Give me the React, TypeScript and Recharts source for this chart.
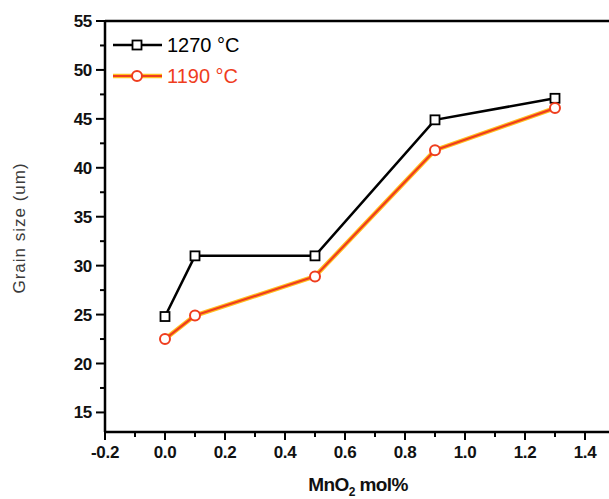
import React from 'react';
import { LineChart, Line, XAxis, YAxis, ReferenceLine } from 'recharts';

const mno2 = [0, 0.1, 0.5, 0.9, 1.3];
const size1270 = [24.8, 31.0, 31.0, 44.9, 47.1];
const size1190 = [22.5, 24.9, 28.9, 41.8, 46.1];

const xTicks = [-0.2, -0.1, 0, 0.1, 0.2, 0.3, 0.4, 0.5, 0.6, 0.7, 0.8, 0.9, 1.0, 1.1, 1.2, 1.3, 1.4, 1.5];
const yTicks = [15, 17.5, 20, 22.5, 25, 27.5, 30, 32.5, 35, 37.5, 40, 42.5, 45, 47.5, 50, 52.5, 55];

const seriesNames = ['1270 °C', '1190 °C'];

const data = mno2.map((x, i) => ({ x, t1270: size1270[i], t1190: size1190[i] }));

const FONT = '"Liberation Sans", Arial, sans-serif';
const ORANGE = '#ef3d1e';
const GLOW = '#ffbf20';

const XTick = (props: any) => {
  const { x, y, payload } = props;
  const major = Math.round(payload.value * 10) % 2 === 0;
  return (
    <g>
      <line x1={x} x2={x} y1={y} y2={y + (major ? 8 : 5)} stroke="#000" strokeWidth={2} />
      {major && (
        <text x={x} y={y + 26} textAnchor="middle" fontFamily={FONT} fontWeight="bold" fontSize={17} fill="#111" letterSpacing={-0.3}>
          {payload.value.toFixed(1)}
        </text>
      )}
    </g>
  );
};

const YTick = (props: any) => {
  const { x, y, payload } = props;
  const major = payload.value % 5 === 0;
  return (
    <g>
      <line x1={x - (major ? 9 : 5)} x2={x} y1={y} y2={y} stroke="#000" strokeWidth={2} />
      {major && (
        <text x={x - 13} y={y + 6} textAnchor="end" fontFamily={FONT} fontWeight="bold" fontSize={17} fill="#111" letterSpacing={-0.3}>
          {payload.value}
        </text>
      )}
    </g>
  );
};

const SquareDot = (props: any) => {
  const { cx, cy } = props;
  if (cx == null || cy == null) return null;
  return <rect x={cx - 4.5} y={cy - 4.5} width={9} height={9} fill="#fff" stroke="#000" strokeWidth={1.8} />;
};

export default function App() {
  return (
    <div style={{ position: 'fixed', left: 0, top: 0, width: 609, height: 499, overflow: 'hidden', background: '#fff' }}>
      <LineChart width={665} height={499} data={data} margin={{ top: 21, right: 20, left: 0, bottom: 0 }}>
        <XAxis
          type="number"
          dataKey="x"
          domain={[-0.2, 1.6]}
          ticks={xTicks}
          interval={0}
          allowDataOverflow
          height={67}
          tickSize={0}
          tickMargin={0}
          tick={<XTick />}
          axisLine={{ stroke: '#000', strokeWidth: 2.5 }}
        />
        <YAxis
          type="number"
          domain={[13, 55]}
          ticks={yTicks}
          interval={0}
          allowDataOverflow
          width={105}
          tickSize={0}
          tickMargin={0}
          tick={<YTick />}
          axisLine={{ stroke: '#000', strokeWidth: 2.5 }}
        />
        <ReferenceLine y={55} stroke="#000" strokeWidth={2.5} />
        <Line
          type="linear"
          dataKey="t1270"
          stroke="#000"
          strokeWidth={2.5}
          dot={<SquareDot />}
          activeDot={false}
          isAnimationActive={false}
        />
        <Line
          type="linear"
          dataKey="t1190"
          stroke={GLOW}
          strokeWidth={4.5}
          dot={false}
          activeDot={false}
          isAnimationActive={false}
        />
        <Line
          type="linear"
          dataKey="t1190"
          stroke={ORANGE}
          strokeWidth={2.2}
          dot={{ r: 5, fill: '#fff', stroke: ORANGE, strokeWidth: 2 }}
          activeDot={false}
          isAnimationActive={false}
        />
      </LineChart>
      <svg width={609} height={499} style={{ position: 'absolute', left: 0, top: 0, pointerEvents: 'none' }}>
        {/* legend */}
        <line x1={113} x2={162} y1={45} y2={45} stroke="#000" strokeWidth={2.5} />
        <rect x={132.5} y={40.5} width={9} height={9} fill="#fff" stroke="#000" strokeWidth={1.8} />
        <text x={167} y={52} fontFamily={FONT} fontSize={20} fill="#000">{seriesNames[0]}</text>
        <line x1={113} x2={162} y1={76} y2={76} stroke={GLOW} strokeWidth={4.5} />
        <line x1={113} x2={162} y1={76} y2={76} stroke={ORANGE} strokeWidth={2.2} />
        <circle cx={137} cy={76} r={5} fill="#fff" stroke={ORANGE} strokeWidth={2} />
        <text x={167} y={83} fontFamily={FONT} fontSize={20} fill={ORANGE}>{seriesNames[1]}</text>
        {/* axis titles */}
        <text
          x={19}
          y={228}
          transform="rotate(-90 19 228)"
          textAnchor="middle"
          dominantBaseline="central"
          fontFamily={FONT}
          fontSize={17}
          letterSpacing={1}
          fill="#3a3a3a"
        >
          Grain size (um)
        </text>
        <text x={358} y={491} textAnchor="middle" fontFamily={FONT} fontWeight="bold" fontSize={19} letterSpacing={-0.6} fill="#111">
          MnO<tspan dy={5} fontSize={12}>2</tspan><tspan dy={-5}> mol%</tspan>
        </text>
      </svg>
    </div>
  );
}
